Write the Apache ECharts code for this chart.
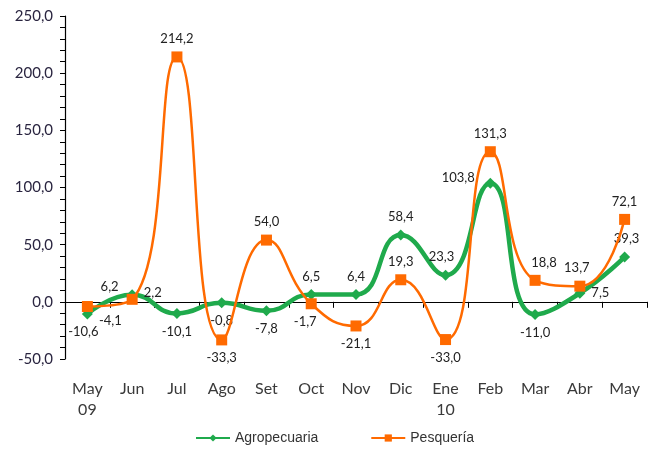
<!DOCTYPE html>
<html><head><meta charset="utf-8">
<script src="https://cdn.jsdelivr.net/npm/echarts@6/dist/echarts.min.js"></script>
<style>html,body{margin:0;padding:0;background:#fff}#c{width:650px;height:451px}</style>
</head><body><div id="c"></div>
<script>
const categories = ['May\n09','Jun','Jul','Ago','Set','Oct','Nov','Dic','Ene\n10','Feb','Mar','Abr','May'];
const agropecuaria = [-10.6, 6.2, -10.1, -0.8, -7.8, 6.5, 6.4, 58.4, 23.3, 103.8, -11.0, 7.5, 39.3];
const pesqueria = [-4.1, 2.2, 214.2, -33.3, 54.0, -1.7, -21.1, 19.3, -33.0, 131.3, 18.8, 13.7, 72.1];
const yTicks = [-50, 0, 50, 100, 150, 200, 250];

const agroLabelPos = ['bottom','left','bottom','bottom','bottom','top','top','top','top','left','bottom','right','top'];
const pesqLabelPos = ['right','right','top','bottom','top','bottom','bottom','top','bottom','top','top','top','top'];
const agroOffsets = [[-4,0],[-2,-8],[0,0],[0,0],[0,0],[0,0],[0,0],[0,0],[-4,0],[-4,-5],[0,0],[0,0],[2,0]];
const pesqOffsets = [[0,14],[0,-7],[0,0],[0,0],[0,0],[-6,0],[0,0],[0,0],[0,0],[0,0],[9,0],[-3,0],[0,0]];

const fmt = v => v.toFixed(1).replace('.', ',');
const FONT = 'Lato, "Open Sans", sans-serif';

function mkData(vals, pos, offs) {
  return vals.map((v, i) => ({
    value: v,
    label: { position: pos[i], offset: offs[i] }
  }));
}

const chart = echarts.init(document.getElementById('c'), null, {renderer: 'canvas'});
chart.setOption({
  animation: false,
  backgroundColor: '#fff',
  grid: { left: 65, right: 3, top: 16, bottom: 92, containLabel: false },
  legend: {
    bottom: 1, left: 190, itemGap: 52, itemWidth: 34, itemHeight: 9,
    textStyle: { fontFamily: '"Liberation Sans", Arial, sans-serif', fontSize: 14, color: '#333' },
    data: ['Agropecuaria', 'Pesquería']
  },
  xAxis: [{
    type: 'category', data: categories, boundaryGap: true,
    axisLine: { onZero: true, lineStyle: { color: '#000', width: 1.2 } },
    axisTick: { show: true, inside: false, length: 6, lineStyle: { color: '#000' } },
    axisLabel: { show: false }
  }, {
    type: 'category', data: categories, boundaryGap: true, position: 'bottom',
    axisLine: { show: false, onZero: false }, axisTick: { show: false },
    axisLabel: { margin: 19, fontFamily: FONT, fontSize: 16, color: '#3a3a3a', lineHeight: 21, interval: 0 }
  }],
  yAxis: {
    type: 'value', min: yTicks[0], max: yTicks[yTicks.length - 1], interval: 50,
    axisLine: { show: true, onZero: false, lineStyle: { color: '#000', width: 1.2 } },
    axisTick: { show: true, length: 5, lineStyle: { color: '#000' } },
    minorTick: { show: true, splitNumber: 5, length: 5, lineStyle: { color: '#000' } },
    splitLine: { show: false },
    axisLabel: { formatter: fmt, fontFamily: FONT, fontSize: 15, color: '#2a2540', margin: 12 }
  },
  series: [{
    name: 'Agropecuaria', type: 'line', smooth: 0.5, xAxisIndex: 0,
    data: mkData(agropecuaria, agroLabelPos, agroOffsets),
    symbol: 'diamond', symbolSize: 11,
    itemStyle: { color: '#1faa4c' },
    lineStyle: { color: '#1faa4c', width: 4.5 },
    label: { show: true, formatter: p => fmt(p.value), fontFamily: FONT, fontSize: 13, color: '#222', distance: 6 },
    z: 2
  }, {
    name: 'Pesquería', type: 'line', smooth: 0.5, xAxisIndex: 0,
    data: mkData(pesqueria, pesqLabelPos, pesqOffsets),
    symbol: 'rect', symbolSize: 11,
    itemStyle: { color: '#ff6a00' },
    lineStyle: { color: '#ff6a00', width: 2.5 },
    label: { show: true, formatter: p => fmt(p.value), fontFamily: FONT, fontSize: 13, color: '#222', distance: 6 },
    z: 3
  }]
});
</script></body></html>
